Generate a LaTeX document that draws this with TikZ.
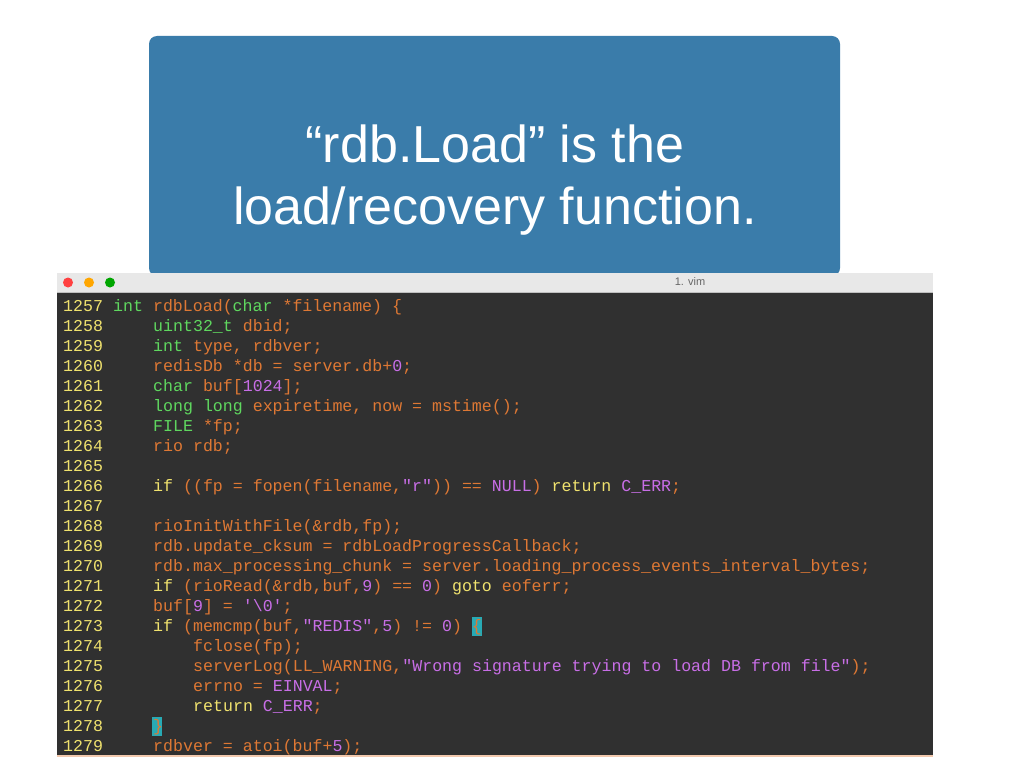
\documentclass[tikz,border=0pt]{standalone}
\usepackage{fontspec}
\setmainfont{Liberation Sans}
\setmonofont{Liberation Mono}
\usepackage{xcolor}
\definecolor{slidebg}{RGB}{58,124,170}
\definecolor{vimbg}{RGB}{48,48,48}
\definecolor{codeorange}{RGB}{222,120,52}
\definecolor{codegreen}{RGB}{95,215,95}
\definecolor{codeyellow}{RGB}{240,226,110}
\definecolor{codepurple}{RGB}{200,110,230}
\definecolor{cursorcyan}{RGB}{40,170,180}
\newcommand{\kw}[1]{\textcolor{codegreen}{#1}}
\newcommand{\ct}[1]{\textcolor{codeyellow}{#1}}
\newcommand{\cn}[1]{\textcolor{codepurple}{#1}}
\tikzset{
  codeline/.style={anchor=base west, inner sep=0pt, font=\fontsize{16.6}{20}\ttfamily, text=codeorange},
  lineno/.style={anchor=base west, inner sep=0pt, font=\fontsize{16.6}{20}\ttfamily, text=codeyellow}
}
\begin{document}
\begin{tikzpicture}[x=1pt,y=-1pt]
    \useasboundingbox (0,0) rectangle (1024,768);
    \fill[white] (0,0) rectangle (1024,768);

    % Slide title box
    \fill[slidebg, rounded corners=8pt] (149,36) rectangle (840,276);
    \node[text=white, font=\fontsize{52}{62}\selectfont, align=center] (title) at (495,180)
        {“rdb.Load” is the\\load/recovery function.};

    % Vim window
    \fill[vimbg] (57,292) rectangle (933,757);
    \fill[gray!18] (57,273) rectangle (933,292);
    \draw[gray!50] (57,292) -- (933,292);
    \fill[codeorange!40] (57,755) rectangle (933,757);
    \foreach \cx/\col in {68/{red!75!white}, 89/{orange!70!yellow}, 110/{green!65!black}}
        \fill[\col] (\cx,282.5) circle (5);
    \node[text=gray!80!black, font=\fontsize{11}{13}\selectfont] (wintitle) at (690,282) {1. vim};

    % Cursor highlights
    \fill[cursorcyan] (472,617) rectangle (482,636);
    \fill[cursorcyan] (152,717) rectangle (162,736);

    % Line numbers
    \foreach \n [count=\i from 0] in {1257,...,1279}
        \node[lineno] at (63,311+20*\i) {\n};

    % Code
    \node[codeline] at (113,311) {\kw{int} rdbLoad(\kw{char} *filename) \{};
    \node[codeline] at (153,331) {\kw{uint32\_t} dbid;};
    \node[codeline] at (153,351) {\kw{int} type, rdbver;};
    \node[codeline] at (153,371) {redisDb *db = server.db+\cn{0};};
    \node[codeline] at (153,391) {\kw{char} buf[\cn{1024}];};
    \node[codeline] at (153,411) {\kw{long} \kw{long} expiretime, now = mstime();};
    \node[codeline] at (153,431) {\kw{FILE} *fp;};
    \node[codeline] at (153,451) {rio rdb;};
    \node[codeline] at (153,491) {\ct{if} ((fp = fopen(filename,\cn{"r"})) == \cn{NULL}) \ct{return} \cn{C\_ERR};};
    \node[codeline] at (153,531) {rioInitWithFile(\&rdb,fp);};
    \node[codeline] at (153,551) {rdb.update\_cksum = rdbLoadProgressCallback;};
    \node[codeline] at (153,571) {rdb.max\_processing\_chunk = server.loading\_process\_events\_interval\_bytes;};
    \node[codeline] at (153,591) {\ct{if} (rioRead(\&rdb,buf,\cn{9}) == \cn{0}) \ct{goto} eoferr;};
    \node[codeline] at (153,611) {buf[\cn{9}] = \cn{'\textbackslash0'};};
    \node[codeline] at (153,631) {\ct{if} (memcmp(buf,\cn{"REDIS"},\cn{5}) != \cn{0}) \{};
    \node[codeline] at (193,651) {fclose(fp);};
    \node[codeline] at (193,671) {serverLog(LL\_WARNING,\cn{"Wrong signature trying to load DB from file"});};
    \node[codeline] at (193,691) {errno = \cn{EINVAL};};
    \node[codeline] at (193,711) {\ct{return} \cn{C\_ERR};};
    \node[codeline] at (153,731) {\}};
    \node[codeline] at (153,751) {rdbver = atoi(buf+\cn{5});};
\end{tikzpicture}
\end{document}
